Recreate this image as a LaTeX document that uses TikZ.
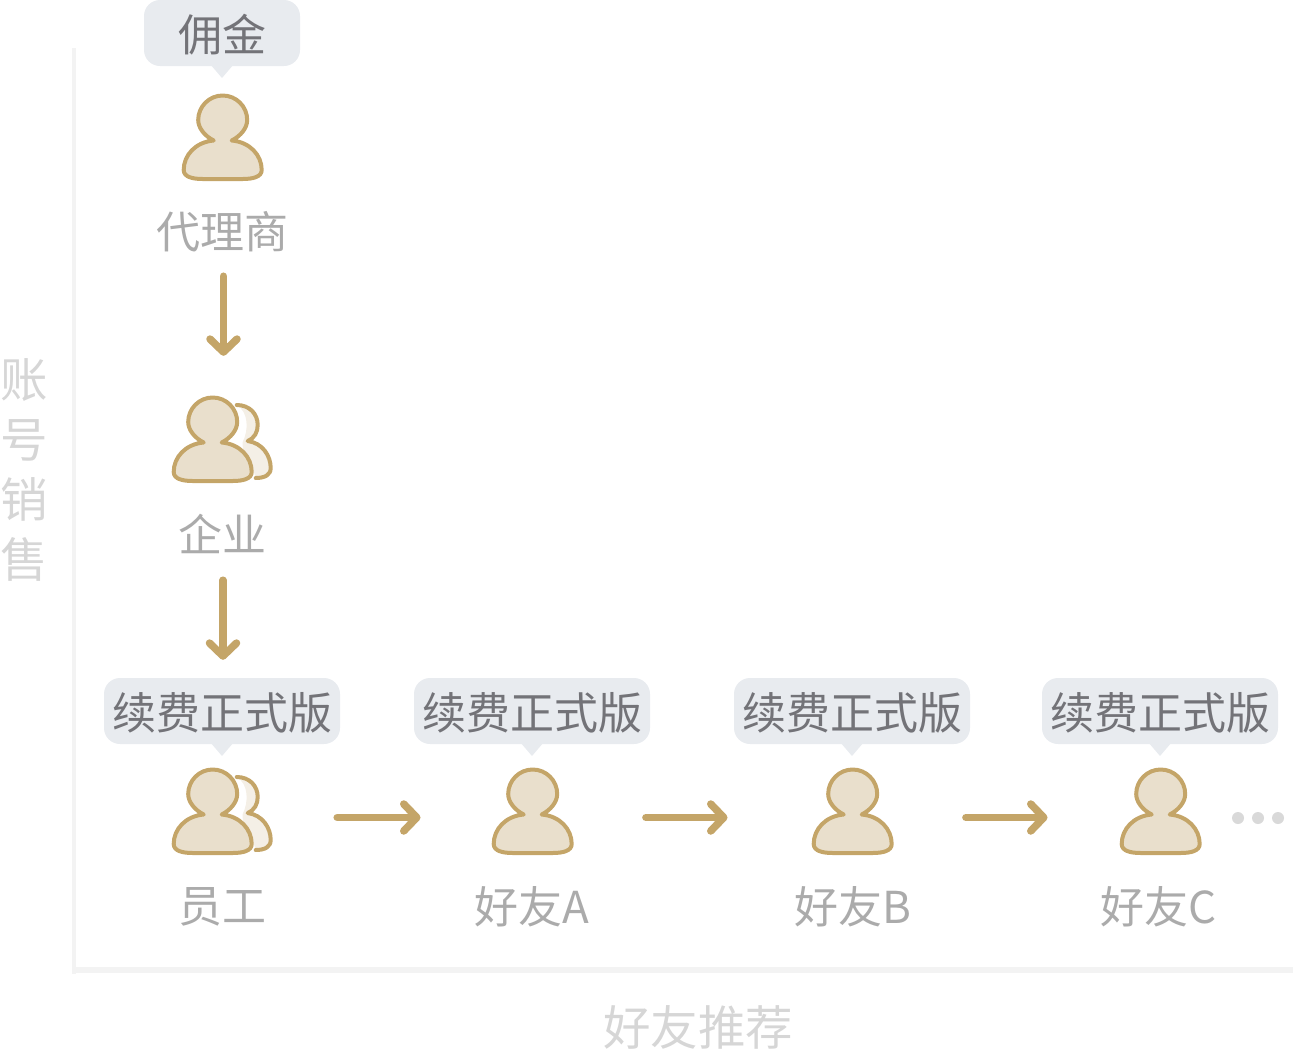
\documentclass[tikz,border=0pt]{standalone}
\usepackage{fontspec}
\setmainfont{Noto Sans CJK SC}
\usetikzlibrary{arrows.meta}
\definecolor{gold}{HTML}{C4A568}
\definecolor{goldfill}{HTML}{E9DFCC}
\definecolor{goldpale}{HTML}{F4EFE6}
\definecolor{bubble}{HTML}{E8EBEF}
\definecolor{bubbletext}{HTML}{737378}
\definecolor{labeltext}{HTML}{ABABAB}
\definecolor{axistext}{HTML}{D6D6D6}
\definecolor{axisline}{HTML}{F3F3F3}
\definecolor{dotc}{HTML}{D9D9D9}
\tikzset{
  x=1pt,y=-1pt,
  personbox/.style={inner sep=0,minimum height=88pt},
  single/.style={personbox,minimum width=82pt},
  double/.style={personbox,minimum width=100pt},
  bubbletip/.style={fill=bubble,draw=none},
  bubblebox/.style={fill=bubble,rounded corners=16pt,draw=none,inner sep=0,minimum height=66pt,text=bubbletext,font=\fontsize{44}{44}\selectfont},
  namelabel/.style={inner sep=0,minimum height=44pt,text=labeltext,font=\fontsize{44}{44}\selectfont},
  axistitle/.style={inner sep=0,text=axistext,font=\fontsize{47.5}{60}\selectfont},
  axisrule/.style={fill=axisline,draw=none},
  flow/.style={draw=gold,line width=7.5pt,line cap=round,line join=round,-{Straight Barb[length=13pt,width=27pt,round]}},
  person/.pic={
    \draw[draw=gold,fill=goldfill,line width=4pt,line join=round]
      (-24.5,0) .. controls (-24.5,-13.5) and (-13.5,-24.5) .. (0,-24.5)
      .. controls (13.5,-24.5) and (24.5,-13.5) .. (24.5,0)
      .. controls (24.5,8) and (18,16) .. (9,20.5)
      .. controls (27,22) and (39,35) .. (39,50)
      .. controls (39,57) and (30,59) .. (20,59) -- (-20,59)
      .. controls (-30,59) and (-39,57) .. (-39,50)
      .. controls (-39,35) and (-27,22) .. (-9,20.5)
      .. controls (-18,16) and (-24.5,8) .. (-24.5,0) -- cycle;
  },
  companion/.pic={
    \fill[goldpale]
      (24,-17) .. controls (37,-17) and (45,-8) .. (45,3)
      .. controls (45,10) and (42,16) .. (35,19)
      .. controls (50,21) and (58,34) .. (58,46)
      .. controls (58,53) and (52,56) .. (43,56)
      .. controls (40,42) and (28,30) .. (30,20)
      .. controls (36,8) and (36,-10) .. (24,-17) -- cycle;
    \draw[draw=gold,line width=4pt,line cap=round,line join=round]
      (24,-17) .. controls (37,-17) and (45,-8) .. (45,3)
      .. controls (45,10) and (42,16) .. (35,19)
      .. controls (50,21) and (58,34) .. (58,46)
      .. controls (58,53) and (52,56) .. (43,56);
  },
}
\newcommand{\callout}[5]{% name, left, right, top, text
  \fill[bubbletip] (#2/2+#3/2-12,#4+64) -- (#2/2+#3/2,#4+78) -- (#2/2+#3/2+12,#4+64) -- cycle;
  \node[bubblebox,minimum width=#3-#2] (#1) at (#2/2+#3/2,#4+33) {\raisebox{-18.7pt}[0pt][0pt]{#5}};
}
\begin{document}
\begin{tikzpicture}
\useasboundingbox (0,0) rectangle (1294,1050);
% axes
\fill[axisrule] (72,48) rectangle (76,974);
\fill[axisrule] (76,967) rectangle (1293,973);
\node[axistitle,align=center] (ytitle) at (24,470) {账\\号\\销\\售};
\node[axistitle] (xtitle) at (698,1027) {好友推荐};
% callouts
\callout{bonus}{144}{300}{0}{佣金}
\callout{renewa}{104}{340}{678}{续费正式版}
\callout{renewb}{414}{650}{678}{续费正式版}
\callout{renewc}{734}{970}{678}{续费正式版}
\callout{renewd}{1042}{1278}{678}{续费正式版}
% people
\node[single] (agent) at (222.7,138) {};
\pic at (222.7,120) {person};
\node[namelabel] (agentname) at (222,232) {代理商};
\node[double] (company) at (222,440) {};
\pic at (212.7,422) {companion};
\pic at (212.7,422) {person};
\node[namelabel] (companyname) at (222,534) {企业};
\node[double] (staff) at (222,812) {};
\pic at (212.7,794) {companion};
\pic at (212.7,794) {person};
\node[namelabel] (staffname) at (222,907) {员工};
\node[single] (frienda) at (532.7,812) {};
\pic at (532.7,794) {person};
\node[namelabel] (friendaname) at (532,906.5) {好友A};
\node[single] (friendb) at (852.7,812) {};
\pic at (852.7,794) {person};
\node[namelabel] (friendbname) at (853,906.5) {好友B};
\node[single] (friendc) at (1160.7,812) {};
\pic at (1160.7,794) {person};
\node[namelabel] (friendcname) at (1159,906.5) {好友C};
% dots
\fill[dotc] (1238,818) circle[radius=6];
\fill[dotc] (1258,818) circle[radius=6];
\fill[dotc] (1278,818) circle[radius=6];
% connectors
\draw[flow,shorten <=22pt,shorten >=40pt] ([xshift=1.5pt]agentname.south) -- ([xshift=1.5pt]company.north);
\draw[flow,shorten <=24pt,shorten >=18pt] ([xshift=1pt]companyname.south) -- ([xshift=1pt]staff.north |- renewa.north);
\draw[flow,shorten <=65pt,shorten >=71pt] ([yshift=-5.5pt]staff.east) -- ([yshift=-5.5pt]frienda.west);
\draw[flow,shorten <=72pt,shorten >=84pt] ([yshift=-5.5pt]frienda.east) -- ([yshift=-5.5pt]friendb.west);
\draw[flow,shorten <=72pt,shorten >=72pt] ([yshift=-5.5pt]friendb.east) -- ([yshift=-5.5pt]friendc.west);
\end{tikzpicture}
\end{document}
